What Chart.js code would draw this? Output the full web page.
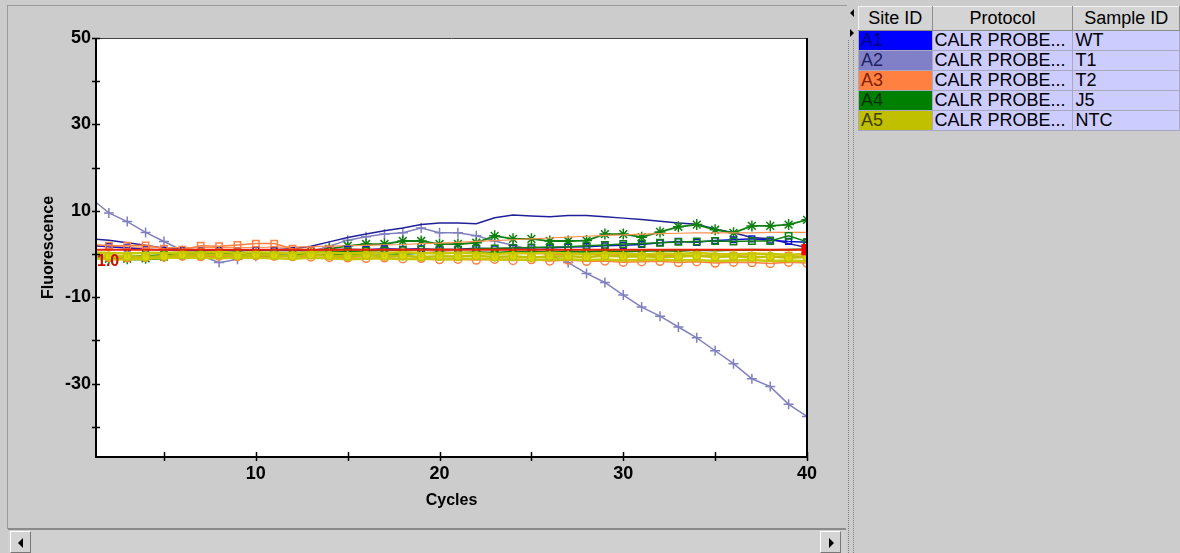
<!DOCTYPE html>
<html>
<head>
<meta charset="utf-8">
<title>Fluorescence vs Cycles</title>
<script src="https://cdn.jsdelivr.net/npm/chart.js@4.4.1/dist/chart.umd.min.js"></script>
<style>
	body { margin:0; width:1180px; height:553px; background:#cccccc; position:relative; overflow:hidden; font-family:"Liberation Sans", Arial, sans-serif; }
	#frame { position:absolute; left:7px; top:5px; width:839px; height:523px; border-top:1px solid #9a9a9a; border-left:1px solid #9a9a9a; }
	#chartBox { position:absolute; left:0; top:0; width:846px; height:527px; }
	#scroll { position:absolute; left:8px; top:528px; width:838px; height:25px; border-top:2px solid #8a8a8a; background:#d0d0d0; }
	.btn { position:absolute; top:1px; width:21px; height:22px; background:#d4d4d4; border-top:1px solid #fff; border-left:1px solid #fff; border-right:1px solid #777; border-bottom:1px solid #777; box-sizing:border-box; }
	.btn i { position:absolute; top:6px; width:0; height:0; border-top:5px solid transparent; border-bottom:5px solid transparent; }
	#left i { left:7px; border-right:5px solid #000; }
	#right i { left:8px; border-left:5px solid #000; }
	#split { position:absolute; left:848px; top:40px; width:4px; height:513px; border-left:1px dotted #808080; border-right:1px dotted #808080; }
	.tri { position:absolute; left:850px; width:0; height:0; border-top:4px solid transparent; border-bottom:4px solid transparent; }
	#sites { position:absolute; left:858px; top:6px; border-collapse:collapse; font-size:18px; }
	#sites th { height:23px; padding:0; font-weight:normal; background:#d4d4d4; border:1px solid #8c8c8c; border-top-color:#f4f4f4; border-left-color:#f4f4f4; }
	#sites td { height:19px; line-height:19px; padding:0 0 0 2px; background:#ccccff; border:1px solid #a8a8c0; white-space:nowrap; overflow:hidden; }
</style>
</head>
<body>
<div id="frame"></div>
<div id="chartBox"><canvas id="fluorCanvas"></canvas></div>
<div id="scroll">
	<div class="btn" id="left" style="left:2px"><i></i></div>
	<div class="btn" id="right" style="left:812px"><i></i></div>
</div>
<div class="tri" style="top:9px; border-right:4px solid #000;"></div>
<div class="tri" style="top:29px; border-left:4px solid #000;"></div>
<div id="split"></div>
<table id="sites">
	<thead><tr><th style="width:73px">Site ID</th><th style="width:140px">Protocol</th><th style="width:106px">Sample ID</th></tr></thead>
	<tbody></tbody>
</table>

<script>
const cycles = [1,2,3,4,5,6,7,8,9,10,11,12,13,14,15,16,17,18,19,20,21,22,23,24,25,26,27,28,29,30,31,32,33,34,35,36,37,38,39,40];

const siteIds = ['A1','A2','A3','A4','A5'];
const protocols = ['CALR PROBE...','CALR PROBE...','CALR PROBE...','CALR PROBE...','CALR PROBE...'];
const sampleIds = ['WT','T1','T2','J5','NTC'];
const siteColors = ['#0000ff','#8080c8','#ff8040','#008000','#c0c000'];
const siteTextColors = ['#000080','#202060','#802000','#003000','#404000'];

const threshold = 1.0;

const a1Line = [3.5,3.2,2.6,2.0,1.3,1.1,1.0,1.0,0.9,1.0,1.0,1.2,1.8,2.8,3.8,4.6,5.4,6.0,6.8,7.2,7.2,7.0,8.4,9.0,8.8,8.6,8.9,8.9,8.6,8.3,8.0,7.6,7.2,6.9,5.8,4.9,3.8,3.5,2.4,1.5];
const a1Squares = [2.0,1.7,1.4,1.1,0.9,0.8,0.7,0.8,0.7,0.9,0.8,0.8,0.9,1.0,1.1,1.0,1.2,1.1,1.2,1.0,1.1,1.3,1.2,1.3,1.5,1.4,1.6,1.7,1.9,2.0,2.2,2.6,2.9,2.7,3.1,3.3,3.5,3.2,2.9,2.7];
const a2Cross = [13.0,9.5,7.5,5.0,2.9,0.8,-0.3,-2.0,-1.2,-0.5,0.0,0.3,0.6,1.8,3.2,4.0,4.6,4.9,6.0,4.9,4.9,4.2,3.0,2.0,1.0,-0.3,-2.0,-4.5,-6.6,-9.5,-12.3,-14.4,-16.9,-19.4,-22.4,-25.4,-28.9,-30.7,-34.8,-37.6];
const a3Line = [1.8,1.7,1.6,1.6,1.5,1.5,1.5,1.6,1.5,1.5,1.6,1.6,1.7,1.8,1.9,2.0,2.1,2.2,2.4,2.5,2.7,2.9,3.1,3.3,3.5,3.7,3.9,4.1,4.3,4.4,4.6,4.7,4.8,4.9,4.9,4.9,4.9,5.0,5.0,5.0];
const a3Squares = [2.2,1.9,1.9,2.0,1.2,1.0,1.9,1.8,2.1,2.4,2.4,1.2,0.9,1.0,0.6,0.4,0.3,0.4,0.3,0.5,0.2,0.4,0.3,0.1,0.2,0.0,-0.2,0.1,-0.3,-0.1,-0.4,-0.2,-0.5,-0.3,-0.6,-0.4,-0.5,-0.7,-0.4,-0.6];
const a3Circles = [-0.6,-0.8,-0.9,-0.8,-0.7,-0.5,-0.6,-0.5,-0.6,-0.4,-0.5,-0.6,-0.7,-0.8,-0.9,-1.0,-0.9,-1.1,-1.0,-1.3,-1.2,-1.4,-1.2,-1.5,-1.3,-1.6,-1.4,-1.7,-1.6,-1.9,-1.8,-1.7,-2.0,-1.8,-2.1,-1.9,-2.0,-2.2,-1.9,-2.1];
const a4Stars = [-0.8,-1.1,-1.1,-1.0,-0.6,-0.2,0.0,0.1,0.0,0.1,0.0,0.2,0.4,1.2,1.9,2.3,2.3,3.0,3.0,2.3,2.3,2.6,4.2,3.5,3.5,3.0,3.0,3.1,4.6,4.6,3.9,5.1,6.3,6.8,5.6,4.9,6.5,6.5,6.8,7.9];
const a4Squares = [-0.3,-0.5,-0.6,-0.4,-0.2,0.0,0.1,0.2,0.1,0.2,0.3,0.2,0.3,0.5,0.6,0.7,0.8,0.9,1.0,1.1,1.0,1.2,1.3,1.4,1.5,1.6,1.7,1.9,2.1,2.3,2.4,2.6,2.8,2.9,3.0,2.9,3.0,3.0,4.2,2.8];
const a4Line = [-0.5,-0.9,-1.2,-1.3,-1.0,-0.6,-0.4,-0.5,-0.3,-0.4,-0.5,-0.3,-0.2,-0.2,0.0,0.1,0.1,0.0,0.2,0.3,0.2,0.4,0.3,0.5,0.4,0.5,0.6,0.5,0.7,0.6,0.7,0.8,0.7,0.9,0.8,0.9,1.0,0.9,1.0,1.1];
const a5Dots = [-0.3,-0.5,-0.6,-0.7,-0.5,-0.2,-0.3,-0.1,-0.4,-0.2,-0.3,-0.5,-0.2,-0.4,-0.6,-0.3,-0.5,-0.4,-0.7,-0.5,-0.6,-0.4,-0.7,-0.5,-0.8,-0.6,-0.5,-0.7,-0.4,-0.6,-0.5,-0.7,-0.6,-0.4,-0.7,-0.5,-0.8,-0.6,-0.9,-0.7];
const a5Line = [-1.0,-1.2,-1.3,-1.1,-0.9,-0.8,-0.9,-1.0,-0.8,-0.9,-1.0,-1.1,-0.9,-1.0,-1.2,-1.1,-1.0,-1.2,-1.1,-1.3,-1.2,-1.1,-1.3,-1.2,-1.4,-1.3,-1.2,-1.4,-1.3,-1.5,-1.4,-1.3,-1.5,-1.4,-1.6,-1.5,-1.4,-1.6,-1.5,-1.7];
const a5Cross = [0.4,0.2,0.1,0.3,0.2,0.4,0.3,0.5,0.2,0.4,0.3,0.2,0.4,0.3,0.1,0.3,0.2,0.4,0.2,0.1,0.3,0.2,0.0,0.2,0.1,0.3,0.1,0.0,0.2,0.1,-0.1,0.1,0.0,0.2,0.0,-0.1,0.1,0.0,-0.2,0.0];

const xMin = 1.3, xMax = 40;
const yMin = -47, yMax = 50;
const xTickValues = [5,10,15,20,25,30,35,40];
const xTickLabels = [10,20,30,40];
const yTickValues = [50,40,30,20,10,0,-10,-20,-30,-40];
const yTickLabels = [50,30,10,-10,-30];

// site table
const tbody = document.querySelector('#sites tbody');
for (let i = 0; i < siteIds.length; i++) {
	tbody.innerHTML += `<tr>
		<td style="background:${siteColors[i]}; color:${siteTextColors[i]}">${siteIds[i]}</td>
		<td>${protocols[i]}</td>
		<td>${sampleIds[i]}</td>
	</tr>`;
}

const toPoints = values => values.map((v, i) => ({x: cycles[i], y: v}));

const makeSet = (values, color, style, radius, fill, width) => ({
	data: toPoints(values),
	borderColor: color,
	borderWidth: width || 1.5,
	pointStyle: style || 'circle',
	pointRadius: style ? radius : 0,
	pointBorderColor: color,
	pointBackgroundColor: fill || 'rgba(0,0,0,0)',
	pointBorderWidth: 1.5,
	tension: 0
});

const thresholdSet = {
	data: [{x: cycles[0], y: threshold}, {x: cycles[cycles.length - 1], y: threshold}],
	borderColor: '#ee2200',
	borderWidth: 2,
	pointStyle: 'rect',
	pointRadius: c => c.dataIndex === 1 ? 6.5 : 0,
	pointBackgroundColor: '#ff0000',
	pointBorderColor: '#ff0000'
};

const plotFrame = {
	id: 'plotFrame',
	beforeDraw(chart) {
		const {ctx, chartArea: a} = chart;
		ctx.save();
		ctx.fillStyle = '#ffffff';
		ctx.fillRect(a.left, a.top, a.right - a.left, a.bottom - a.top);
		ctx.restore();
	},
	afterDatasetsDraw(chart) {
		const {ctx, chartArea: a, scales} = chart;
		ctx.save();
		ctx.fillStyle = '#c81000';
		ctx.font = 'bold 16px "Liberation Sans", Arial, sans-serif';
		ctx.textBaseline = 'middle';
		ctx.fillText(threshold.toFixed(1), a.left + 1, scales.y.getPixelForValue(threshold) + 12);
		ctx.restore();
	},
	afterDraw(chart) {
		const {ctx, chartArea: a, scales} = chart;
		ctx.save();
		ctx.strokeStyle = '#444';
		ctx.lineWidth = 1;
		ctx.beginPath();
		ctx.moveTo(a.left, a.top + 0.5);
		ctx.lineTo(a.right, a.top + 0.5);
		ctx.stroke();
		ctx.strokeStyle = '#000';
		ctx.lineWidth = 2;
		ctx.beginPath();
		ctx.moveTo(a.left, a.top);
		ctx.lineTo(a.left, a.bottom);
		ctx.lineTo(a.right, a.bottom);
		ctx.lineTo(a.right, a.top);
		ctx.stroke();
		ctx.lineWidth = 1.5;
		ctx.beginPath();
		scales.y.ticks.forEach(t => {
			const y = Math.round(scales.y.getPixelForValue(t.value)) + 0.5;
			ctx.moveTo(a.left - 4, y);
			ctx.lineTo(a.left + 4, y);
		});
		scales.x.ticks.forEach(t => {
			const x = Math.round(scales.x.getPixelForValue(t.value)) + 0.5;
			ctx.moveTo(x, a.bottom - 5);
			ctx.lineTo(x, a.bottom + 4);
		});
		ctx.stroke();
		ctx.restore();
	}
};

const tickFont = {family: '"Liberation Sans", Arial, sans-serif', size: 18, weight: 'bold'};
const titleFont = {family: '"Liberation Sans", Arial, sans-serif', size: 16, weight: 'bold'};

const ctx = document.querySelector('#fluorCanvas').getContext('2d');

const fluorChart = new Chart(ctx, {
	type: 'line',
	data: {
		datasets: [
			thresholdSet,
			makeSet(a5Cross, '#c8c800', 'cross', 4.5, null, 2.5),
			makeSet(a5Dots, '#c0c000', 'circle', 4, '#d8d800', 2.5),
			makeSet(a5Line, '#c8c800', null, 0, null, 2.5),
			makeSet(a3Circles, '#ff8040', 'circle', 4),
			makeSet(a4Line, '#108010', null, 0, null, 2),
			makeSet(a4Squares, '#108010', 'rect', 4.5),
			makeSet(a3Squares, '#ff8040', 'rect', 4.5),
			makeSet(a1Squares, '#1010d0', 'rect', 4),
			makeSet(a3Line, '#ff9050', null, 0, null, 1.2),
			makeSet(a4Stars, '#108010', 'star', 5.5, null, 1.8),
			makeSet(a1Line, '#202098'),
			makeSet(a2Cross, '#8080c0', 'cross', 5)
		]
	},
	options: {
		responsive: true,
		maintainAspectRatio: false,
		animation: false,
		layout: {padding: {left: 0, top: 38, right: 39, bottom: 0}},
		plugins: {legend: {display: false}, tooltip: {enabled: false}},
		scales: {
			x: {
				type: 'linear',
				min: xMin,
				max: xMax,
				grid: {display: false, drawTicks: false},
				border: {display: false},
				afterBuildTicks: s => { s.ticks = xTickValues.map(v => ({value: v})); },
				afterFit: s => { s.height = 70; },
				ticks: {
					autoSkip: false,
					maxRotation: 0,
					padding: 6,
					color: '#000',
					font: tickFont,
					callback: v => xTickLabels.includes(v) ? String(v) : ''
				},
				title: {display: true, text: 'Cycles', color: '#000', font: titleFont, padding: {top: 0, bottom: 17}}
			},
			y: {
				min: yMin,
				max: yMax,
				grid: {display: false, drawTicks: false},
				border: {display: false},
				afterBuildTicks: s => { s.ticks = yTickValues.map(v => ({value: v})); },
				afterFit: s => { s.width = 96; },
				ticks: {
					autoSkip: false,
					padding: 5,
					color: '#000',
					font: tickFont,
					callback: v => yTickLabels.includes(v) ? String(v) : ''
				},
				title: {display: true, text: 'Fluorescence', color: '#000', font: titleFont, padding: {top: 39, bottom: 0}}
			}
		}
	},
	plugins: [plotFrame]
});
</script>
</body>
</html>
